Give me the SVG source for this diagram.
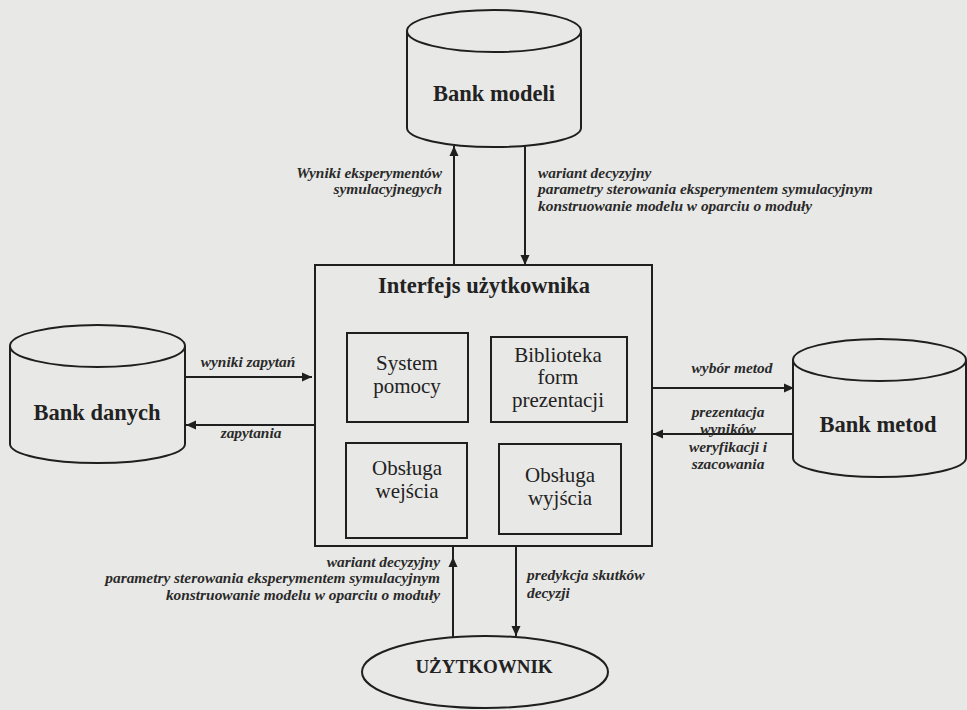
<svg xmlns="http://www.w3.org/2000/svg" width="967" height="710" viewBox="0 0 967 710">
  <style>
    .shape { fill: none; stroke: #1f1f1f; stroke-width: 2; }
    .edge { fill: none; stroke: #1f1f1f; stroke-width: 2; }
    .title { font-family: "Liberation Serif", "Times New Roman", serif; font-weight: bold; font-size: 22.5px; fill: #222; text-anchor: middle; }
    .inner { font-family: "Liberation Serif", "Times New Roman", serif; font-size: 21px; fill: #222; text-anchor: middle; }
    .lbl { font-family: "Liberation Serif", "Times New Roman", serif; font-weight: bold; font-style: italic; font-size: 15.4px; fill: #2a2a2a; }
    .mid { text-anchor: middle; }
    .end { text-anchor: end; }
  </style>
  <defs>
    <marker id="arrow" viewBox="0 0 10 10" refX="10" refY="5" markerWidth="10" markerHeight="10" markerUnits="userSpaceOnUse" orient="auto">
      <path d="M0,0.5 L10,5 L0,9.5 Z" fill="#1f1f1f"/>
    </marker>
  </defs>

  <rect x="0" y="0" width="967" height="710" fill="#e8e8e6"/>

  <!-- Connectors -->
  <g id="connectors">
    <!-- Bank modeli <-> Interfejs -->
    <path class="edge" d="M454,265 V146" marker-end="url(#arrow)"/>
    <path class="edge" d="M525,146 V265" marker-end="url(#arrow)"/>
    <!-- Bank danych <-> Interfejs -->
    <path class="edge" d="M185,377 H312" marker-end="url(#arrow)"/>
    <path class="edge" d="M315,425 H186" marker-end="url(#arrow)"/>
    <!-- Interfejs <-> Bank metod -->
    <path class="edge" d="M652,388 H794" marker-end="url(#arrow)"/>
    <path class="edge" d="M793,434 H653" marker-end="url(#arrow)"/>
    <!-- Interfejs <-> UŻYTKOWNIK -->
    <path class="edge" d="M453,637 V557 V546" marker-mid="url(#arrow)"/>
    <path class="edge" d="M516,546 V636" marker-end="url(#arrow)"/>

    <!-- connector labels -->
    <text class="lbl end" x="442" y="178">Wyniki eksperymentów</text>
    <text class="lbl end" x="442" y="194">symulacyjnegych</text>
    <text class="lbl" x="538" y="178">wariant decyzyjny</text>
    <text class="lbl" x="538" y="194">parametry sterowania  eksperymentem symulacyjnym</text>
    <text class="lbl" x="538" y="211">konstruowanie modelu w oparciu o moduły</text>

    <text class="lbl mid" x="248" y="367">wyniki zapytań</text>
    <text class="lbl mid" x="251" y="438">zapytania</text>

    <text class="lbl mid" x="732" y="373">wybór metod</text>
    <text class="lbl mid" x="728" y="417">prezentacja</text>
    <text class="lbl mid" x="728" y="434">wyników</text>
    <text class="lbl mid" x="728" y="452">weryfikacji i</text>
    <text class="lbl mid" x="728" y="469">szacowania</text>

    <text class="lbl end" x="440" y="567">wariant decyzyjny</text>
    <text class="lbl end" x="440" y="583">parametry sterowania  eksperymentem symulacyjnym</text>
    <text class="lbl end" x="440" y="600">konstruowanie modelu w oparciu o moduły</text>
    <text class="lbl" x="527" y="580">predykcja skutków</text>
    <text class="lbl" x="527" y="598">decyzji</text>
  </g>

  <!-- Bank modeli -->
  <g id="bank-modeli">
    <path class="shape" d="M407,31 A87,21 0 0 1 581,31 A87,21 0 0 1 407,31 Z"/>
    <path class="shape" d="M407,31 V128 A87,19 0 0 0 581,128 V31"/>
    <text class="title" x="494" y="101">Bank modeli</text>
  </g>

  <!-- Bank danych -->
  <g id="bank-danych">
    <path class="shape" d="M10,346 A87.5,21 0 0 1 185,346 A87.5,21 0 0 1 10,346 Z"/>
    <path class="shape" d="M10,346 V444 A87.5,19 0 0 0 185,444 V346"/>
    <text class="title" x="97" y="420">Bank danych</text>
  </g>

  <!-- Bank metod -->
  <g id="bank-metod">
    <path class="shape" d="M793,360 A86.5,21 0 0 1 966,360 A86.5,21 0 0 1 793,360 Z"/>
    <path class="shape" d="M793,360 V458 A86.5,19 0 0 0 966,458 V360"/>
    <text class="title" x="878" y="432">Bank metod</text>
  </g>

  <!-- Interfejs użytkownika with its modules -->
  <g id="interfejs">
    <rect class="shape" x="315" y="265" width="337" height="281"/>
    <text class="title" x="484" y="293">Interfejs użytkownika</text>
  </g>
  <g id="system-pomocy">
    <rect class="shape" x="347" y="333" width="121" height="89"/>
    <text class="inner" x="407" y="370">System</text>
    <text class="inner" x="407" y="393">pomocy</text>
  </g>
  <g id="biblioteka">
    <rect class="shape" x="491" y="337" width="136" height="85"/>
    <text class="inner" x="558" y="362">Biblioteka</text>
    <text class="inner" x="558" y="384">form</text>
    <text class="inner" x="558" y="407">prezentacji</text>
  </g>
  <g id="obsluga-wejscia">
    <rect class="shape" x="346" y="443" width="121" height="95"/>
    <text class="inner" x="407" y="475">Obsługa</text>
    <text class="inner" x="407" y="498">wejścia</text>
  </g>
  <g id="obsluga-wyjscia">
    <rect class="shape" x="499" y="444" width="122" height="90"/>
    <text class="inner" x="560" y="482">Obsługa</text>
    <text class="inner" x="560" y="505">wyjścia</text>
  </g>

  <!-- UŻYTKOWNIK -->
  <g id="uzytkownik">
    <ellipse class="shape" cx="485" cy="672" rx="123" ry="36"/>
    <text class="title" x="484" y="673" style="font-size:19px">UŻYTKOWNIK</text>
  </g>
</svg>
